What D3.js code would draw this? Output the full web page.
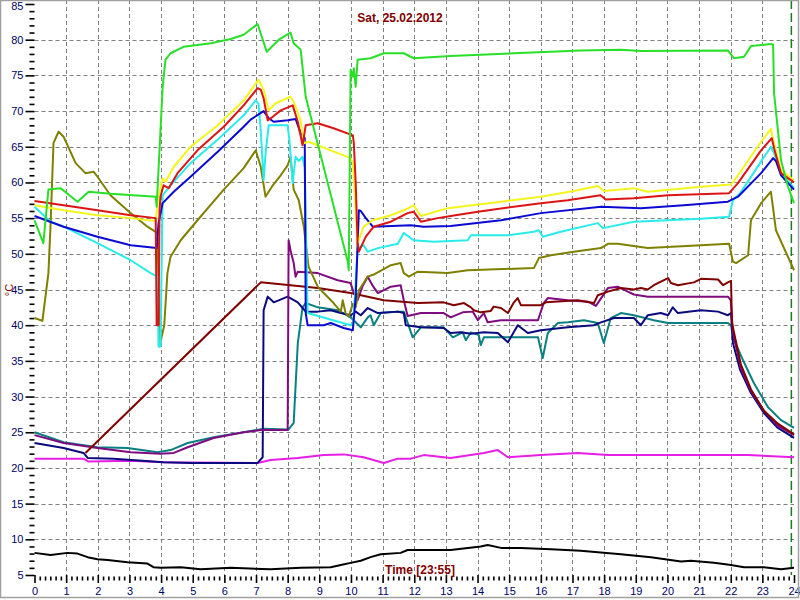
<!DOCTYPE html>
<html><head><meta charset="utf-8">
<script src="https://cdn.jsdelivr.net/npm/d3@7"></script>
<style>body{margin:0;background:#fff}svg{display:block}</style>
</head><body><svg id="c" width="800" height="600"></svg>
<script>
const title = "Sat, 25.02.2012";
const timeLabel = "Time [23:55]";
const unitLabel = "°C";
const currentHour = 23 + 55/60;
const xTickValues = d3.range(0, 25);
const yTickValues = d3.range(5, 86, 5);

const green = [[0,54.7],[0.28,51.5],[0.44,59],[0.82,59.2],[1.36,57.3],[1.71,58.7],[2.4,58.4],[3.83,58],[3.86,56.6],[4.05,73.4],[4.14,77.2],[4.3,78.1],[4.71,79],[5.57,79.5],[6.2,80.1],[6.61,80.7],[7.05,82.2],[7.34,78.3],[7.72,80],[8.09,81],[8.19,79.5],[8.41,78.6],[8.57,72],[9.9,48.9],[9.93,47.7],[9.99,75.8],[10.06,74.8],[10.09,76],[10.15,73.4],[10.21,77.2],[10.62,77.4],[11.04,78.1],[11.67,78.1],[11.98,77.4],[13.15,77.7],[17.26,78.5],[18.53,78.6],[19.16,78.4],[21.91,78.5],[22.1,77.4],[22.42,77.6],[22.64,79.1],[23.27,79.4],[23.34,79.3],[23.37,72.5],[23.59,63.1],[23.81,59.4],[24,57.1]];
const yellow = [[0,56.8],[0.92,56.1],[1.99,55.4],[3.04,55],[3.83,54.6],[3.92,58],[4.05,60.6],[4.14,60.1],[4.4,62.2],[4.93,65],[5.79,68],[6.61,71.5],[7.08,74.4],[7.24,73],[7.4,70.1],[7.62,71.1],[8.09,72],[8.19,71.3],[8.41,68.7],[8.51,65.5],[8.66,65.7],[9.99,63.4],[10.06,62.8],[10.21,51.5],[10.4,53.8],[10.69,54.7],[11.26,55.4],[11.67,56.1],[11.98,56.8],[12.21,55.3],[13.06,56.4],[14.74,57.3],[16,58],[17.04,58.8],[17.8,59.5],[17.99,58.8],[18.94,59.2],[19.38,58.7],[21.06,59.4],[22.01,59.7],[22.23,61],[22.96,65.7],[23.27,67.5],[23.37,65.5],[23.59,61.7],[24,60.3]];
const red = [[0,57.4],[0.92,56.8],[1.99,56.1],[3.04,55.4],[3.83,55],[3.86,40],[3.92,40],[3.95,56],[3.98,58],[4.08,59.6],[4.24,59.2],[4.52,61.3],[5.15,64.5],[5.98,67.8],[6.61,70.8],[7.05,73.2],[7.15,73],[7.24,71.8],[7.37,68.7],[7.53,69.2],[7.78,70.1],[8.16,70.8],[8.32,68.5],[8.47,65.2],[8.57,68],[8.95,68.3],[9.45,67.6],[10.06,66.6],[10.09,65.5],[10.15,60],[10.21,51.5],[10.25,50.3],[10.47,52.4],[10.72,53.8],[11.26,54.5],[11.79,55.7],[11.98,55.9],[12.21,54.5],[12.74,55],[13.15,55.3],[14.01,55.9],[16,57.1],[16.85,57.5],[17.89,58.2],[18.05,57.6],[18.94,57.8],[20.02,58.2],[21.95,58.5],[22.23,59.9],[22.96,64.5],[23.3,66.2],[23.37,64.8],[23.59,61.3],[24,60]];
const blue = [[0,55.3],[0.92,53.8],[1.99,52.4],[3.04,51.2],[3.86,50.8],[3.92,54.3],[4.05,57.1],[4.4,58.7],[4.93,60.8],[5.79,64.3],[6.61,67.8],[6.83,68.8],[7.24,70],[7.4,69],[7.56,68.5],[8,68.7],[8.25,68.9],[8.41,66.9],[8.54,66.2],[8.57,41.7],[8.63,40],[9.14,40],[9.36,40.3],[9.77,39.6],[10.06,39.3],[10.15,44],[10.25,56.1],[10.31,56],[10.47,55],[10.69,53.8],[11.89,54],[12.3,53.8],[13.15,53.9],[14.74,54.7],[16,55.7],[17.9,56.6],[19.16,56.4],[20.52,56.8],[21.91,57.3],[22.23,58],[22.96,61.3],[23.34,63.4],[23.43,63],[23.59,61],[24,59]];
const cyan = [[0,56.6],[0.51,54.5],[0.92,53.8],[1.99,51.5],[3.04,49.1],[3.67,47.3],[3.89,46.8],[3.92,37],[3.98,37],[4.05,58.2],[4.14,58.7],[4.3,59.6],[4.93,62.7],[5.79,66],[6.61,69.4],[6.99,71.5],[7.08,71],[7.15,67.3],[7.24,60.3],[7.3,64],[7.4,68],[8.0,68],[8.06,65.7],[8.16,59.9],[8.25,63.6],[8.35,63],[8.47,63.6],[8.54,62],[8.63,41.7],[9.99,40],[10.08,40.5],[10.21,50.8],[10.4,51.2],[10.53,50.3],[10.85,50.8],[11.48,51.4],[11.67,52.9],[11.98,51.9],[12.62,51.7],[13.69,51.9],[13.79,52.6],[14.96,52.6],[15.78,53.1],[15.94,53.3],[16.06,52.4],[16.63,53.1],[17.8,54.3],[17.96,53.6],[18.94,54.5],[21.06,54.9],[21.95,55.2],[22.07,57.5],[22.3,58.5],[23.27,65],[23.37,64.1],[23.59,61.3],[24,59.2]];
const olive = [[0,41],[0.25,40.6],[0.44,47.3],[0.51,54.3],[0.6,65.5],[0.76,67.1],[0.92,66.4],[1.3,62.7],[1.61,61.3],[1.87,61.5],[1.99,60.8],[2.4,58.2],[3.04,55.7],[3.57,53.8],[3.89,52.9],[3.95,37],[4.1,40],[4.2,47.3],[4.3,49.6],[4.62,51.9],[5.15,54.7],[5.98,59],[6.61,62],[6.99,64.5],[7.15,62.2],[7.3,58],[7.53,59.6],[7.78,61],[8.0,62.4],[8.09,63.6],[8.19,59],[8.35,57.5],[8.51,53.8],[8.66,48.2],[8.95,45.4],[9.14,44.5],[9.45,43.1],[9.68,41.9],[9.74,43.5],[9.83,41.7],[9.93,41.2],[10.06,43],[10.15,42.5],[10.25,44.9],[10.53,46.8],[10.72,47.1],[11.26,48.4],[11.57,48.7],[11.67,47.3],[11.83,46.8],[12.11,47.5],[13.06,47.3],[13.69,47.7],[15.78,48],[15.94,49.4],[16.32,49.8],[17.04,50.3],[17.9,50.8],[18.12,51.4],[18.43,51.4],[19.38,50.8],[21.06,51.2],[21.95,51.4],[22.07,48.9],[22.17,48.7],[22.55,49.8],[22.64,54.7],[22.96,57.1],[23.27,58.7],[23.43,53.3],[24,47.7]];
const maroon = [[1.61,22.1],[7.15,46],[8.95,45.2],[9.99,44.5],[11.04,43.5],[12.11,43.1],[12.93,43.2],[13.25,42.8],[13.57,43.1],[13.79,42.5],[13.88,42.1],[14.1,41.8],[14.42,42],[14.51,42.6],[14.74,42.4],[14.96,41.7],[15.15,43.2],[15.27,43.8],[15.37,42.8],[16,42.8],[16.16,43.2],[17.17,43.5],[17.68,43.1],[17.8,44.2],[18.12,44.7],[18.53,45.2],[18.94,45],[19.16,45.2],[19.38,45],[19.57,45.6],[20.02,46.6],[20.11,45.9],[20.33,45.6],[20.84,46],[21.06,46.5],[21.6,46.4],[21.76,45.6],[21.91,46],[22.01,46.2],[22.04,40.3],[22.32,34.5],[22.64,31],[23.05,28],[23.49,26.2],[24,24.7]];
const purple = [[0,24.6],[0.92,23.5],[1.99,22.8],[3.04,22.2],[3.98,22],[4.4,22.1],[4.84,22.9],[5.66,24.2],[6.61,25],[7.15,25.3],[8.0,25.3],[8.03,51.9],[8.09,50.5],[8.19,48.7],[8.25,46.8],[8.32,47.5],[8.95,47.3],[9.58,46.3],[9.99,45.9],[10.09,44.5],[10.21,43.5],[10.37,45.5],[10.53,46.8],[10.69,45.5],[10.85,44.5],[11.26,45.4],[11.57,45.6],[11.67,43.5],[11.79,41.3],[12.21,41.7],[12.93,41.7],[13.15,41.1],[13.53,41.8],[13.85,41.9],[14.01,40.7],[14.2,41.7],[14.32,40.4],[14.74,40.7],[15.91,40.7],[16.09,43.1],[16.22,43.8],[16.85,43.5],[17.49,43.3],[17.74,42.7],[18.12,45.2],[18.43,45.4],[18.75,44.7],[18.94,44.3],[19.38,44],[21.91,44],[22.0,43.5],[22.07,39],[22.32,34],[22.64,30.8],[23.05,28],[23.49,25.9],[24,24.6]];
const navy = [[0,23.5],[0.92,22.8],[1.55,22.1],[1.68,21.4],[2.5,21.3],[4.08,20.8],[4.93,20.7],[7.05,20.7],[7.21,21.5],[7.24,42.1],[7.37,44],[7.56,43.2],[8.0,44],[8.32,43.2],[8.57,41.9],[8.95,41.9],[9.36,42.1],[9.68,41.7],[9.99,41.4],[10.15,41.9],[10.31,41.4],[10.53,42.4],[10.85,41.7],[11.48,41.9],[11.67,41.7],[11.73,40],[12.21,39.7],[12.93,39.6],[13.15,38.9],[13.47,39],[13.79,38.8],[14.2,39],[14.64,38.9],[14.96,37.6],[15.27,40],[15.59,38.9],[16,39.3],[16.85,39.7],[17.68,40],[17.9,40.4],[18.31,41],[18.94,41],[19.16,40],[19.38,41.4],[19.79,41.7],[20.02,41.4],[20.17,42.5],[20.33,41.7],[21.06,42.1],[21.6,41.9],[21.91,41.4],[22.01,41.7],[22.07,37.5],[22.3,33.7],[22.64,30.5],[23.05,27.7],[23.49,25.6],[24,24.2]];
const teal = [[0,25],[0.92,23.6],[1.99,22.9],[2.94,22.8],[3.89,22.2],[4.3,22.5],[4.84,23.5],[5.66,24.3],[6.61,25],[7.24,25.5],[8.03,25.4],[8.19,26.3],[8.32,37.5],[8.47,42.5],[8.57,43.1],[8.95,42.5],[9.58,42.1],[9.99,41.1],[10.31,39.7],[10.53,41.1],[10.62,41.4],[10.72,40],[10.94,41.7],[11.48,41.9],[11.67,41.9],[11.95,38.3],[12.21,39.7],[12.93,39.7],[13.22,38.3],[13.53,39],[13.63,37.9],[13.79,39],[14.04,38.6],[14.1,37.2],[14.2,38.3],[15.05,38.3],[15.91,38.3],[16.06,35.4],[16.22,38.9],[16.54,40.3],[16.85,40.4],[17.36,40.7],[17.8,40.3],[17.99,37.5],[18.21,41],[18.53,41.7],[18.94,41.4],[19.57,40.7],[20.02,40.3],[21.91,40.3],[22.01,40],[22.07,38.3],[22.42,34.8],[22.73,31.9],[23.18,28.5],[23.59,26.7],[24,25.6]];
const magenta = [[0,21.3],[1.55,21.3],[1.71,20.9],[3.04,21],[4.08,20.8],[7.05,20.7],[7.46,21.1],[8.32,21.4],[9.14,21.8],[9.77,21.9],[10.4,21.5],[11.04,20.7],[11.48,21.3],[11.89,21.3],[12.3,21.8],[13.15,21.4],[14.2,22.1],[14.64,22.5],[14.96,21.5],[16,21.8],[17.17,22.1],[18.12,21.8],[20.02,21.8],[22.55,21.8],[24,21.5]];
const black = [[0,8.1],[0.51,7.8],[1.04,8.1],[1.36,8],[1.68,7.5],[1.99,7.2],[2.31,7.1],[2.94,6.8],[3.57,6.6],[3.76,6.1],[3.98,6],[4.62,6.1],[5.25,5.8],[6.2,6],[7.46,5.8],[8.41,6],[9.36,6.1],[9.68,6.4],[9.99,6.7],[10.31,7],[10.62,7.5],[10.94,7.9],[11.57,8.1],[11.79,8.5],[13.15,8.5],[14.1,9],[14.32,9.2],[14.74,8.8],[15.37,8.8],[16.32,8.6],[17.26,8.4],[18.53,7.9],[19.48,7.5],[20.43,6.9],[20.74,7],[21.47,6.7],[22.01,6.4],[22.42,6.1],[23.05,6.1],[23.59,5.8],[24,6]];

const seriesList = [
  {data: black,   color: "#000000"},
  {data: magenta, color: "#e61ee6"},
  {data: teal,    color: "#0a8080"},
  {data: navy,    color: "#0a0a80"},
  {data: purple,  color: "#800a80"},
  {data: maroon,  color: "#800000"},
  {data: olive,   color: "#808000"},
  {data: cyan,    color: "#28ecec"},
  {data: blue,    color: "#0a0ad2"},
  {data: yellow,  color: "#f5f51e"},
  {data: red,     color: "#dc1414"},
  {data: green,   color: "#28e028"}
];

const svg = d3.select("#c");
const x = d3.scaleLinear().domain([0, 24]).range([34.5, 794]);
const y = d3.scaleLinear().domain([5, 85]).range([575, 4]);

svg.append("rect").attr("width", 800).attr("height", 600).attr("fill", "#fff");

// grid
const grid = svg.append("g").attr("stroke", "#808080").attr("stroke-width", 1).attr("stroke-dasharray", "4,3");
grid.selectAll("line.v").data(xTickValues.filter(h => h > 0 && h < 24)).join("line")
  .attr("x1", d => Math.round(x(d)) + 0.5).attr("x2", d => Math.round(x(d)) + 0.5)
  .attr("y1", 0).attr("y2", y(5));
grid.selectAll("line.h").data(yTickValues.filter(v => v > 5 && v < 85)).join("line")
  .attr("class", "h")
  .attr("x1", x(0)).attr("x2", x(24))
  .attr("y1", d => Math.round(y(d)) + 0.5).attr("y2", d => Math.round(y(d)) + 0.5);

// axes
const axisColor = "#000066";
const font = "'Liberation Sans', Arial, sans-serif";
const yAxis = svg.append("g").attr("transform", `translate(${x(0)},0)`)
  .call(d3.axisLeft(y).tickValues(yTickValues).tickSize(9).tickPadding(2));
const yMinor = svg.append("g").attr("transform", `translate(${x(0)},0)`)
  .call(d3.axisLeft(y).tickValues(d3.range(5, 86).filter(v => v % 5 !== 0)).tickSize(5).tickFormat(""));
const xAxis = svg.append("g").attr("transform", `translate(0,${y(5)})`)
  .call(d3.axisBottom(x).tickValues(xTickValues).tickSize(8).tickPadding(4));
const minorH = d3.range(1, 24 * 6).filter(i => i % 6 !== 0).map(i => i / 6);
const xMinor = svg.append("g").attr("transform", `translate(0,${y(5) + 1.5})`)
  .call(d3.axisBottom(x).tickValues(minorH).tickSize(4).tickFormat(""));
[yAxis, yMinor, xAxis, xMinor].forEach(g => {
  g.select(".domain").remove();
  g.selectAll("line").attr("stroke", "#000").attr("stroke-width", 1.6);
  g.selectAll("text").attr("fill", axisColor).style("font-family", font).style("font-size", "11px");
});
// keep the topmost label inside the picture
yAxis.selectAll(".tick").filter(d => d === 85).select("text").attr("y", 1.5);

// current time marker
svg.append("line")
  .attr("x1", x(currentHour)).attr("x2", x(currentHour))
  .attr("y1", 0).attr("y2", y(5))
  .attr("stroke", "#1e7a1e").attr("stroke-width", 1.5).attr("stroke-dasharray", "9,4");

// series
const line = d3.line().x(d => x(d[0])).y(d => y(d[1]));
svg.append("g").selectAll("path").data(seriesList).join("path")
  .attr("d", d => line(d.data))
  .attr("fill", "none")
  .attr("stroke", d => d.color)
  .attr("stroke-width", 2)
  .attr("stroke-linejoin", "round");

// texts
svg.append("text").attr("x", 400).attr("y", 22).attr("text-anchor", "middle")
  .attr("fill", "#800000").style("font-family", font).style("font-size", "12px").style("font-weight", "bold")
  .text(title);
svg.append("text").attr("x", 420).attr("y", 574).attr("text-anchor", "middle")
  .attr("fill", "#800000").style("font-family", font).style("font-size", "12px").style("font-weight", "bold")
  .text(timeLabel);
svg.append("text").attr("transform", "translate(12.5,290) rotate(-90)").attr("text-anchor", "middle")
  .attr("fill", "#800000").style("font-family", font).style("font-size", "11px")
  .text(unitLabel);

// frame
svg.append("rect").attr("x", 0.5).attr("y", 0.5).attr("width", 798).attr("height", 597)
  .attr("fill", "none").attr("stroke", "#a0a0a0").attr("stroke-width", 1.5);
</script></body></html>
